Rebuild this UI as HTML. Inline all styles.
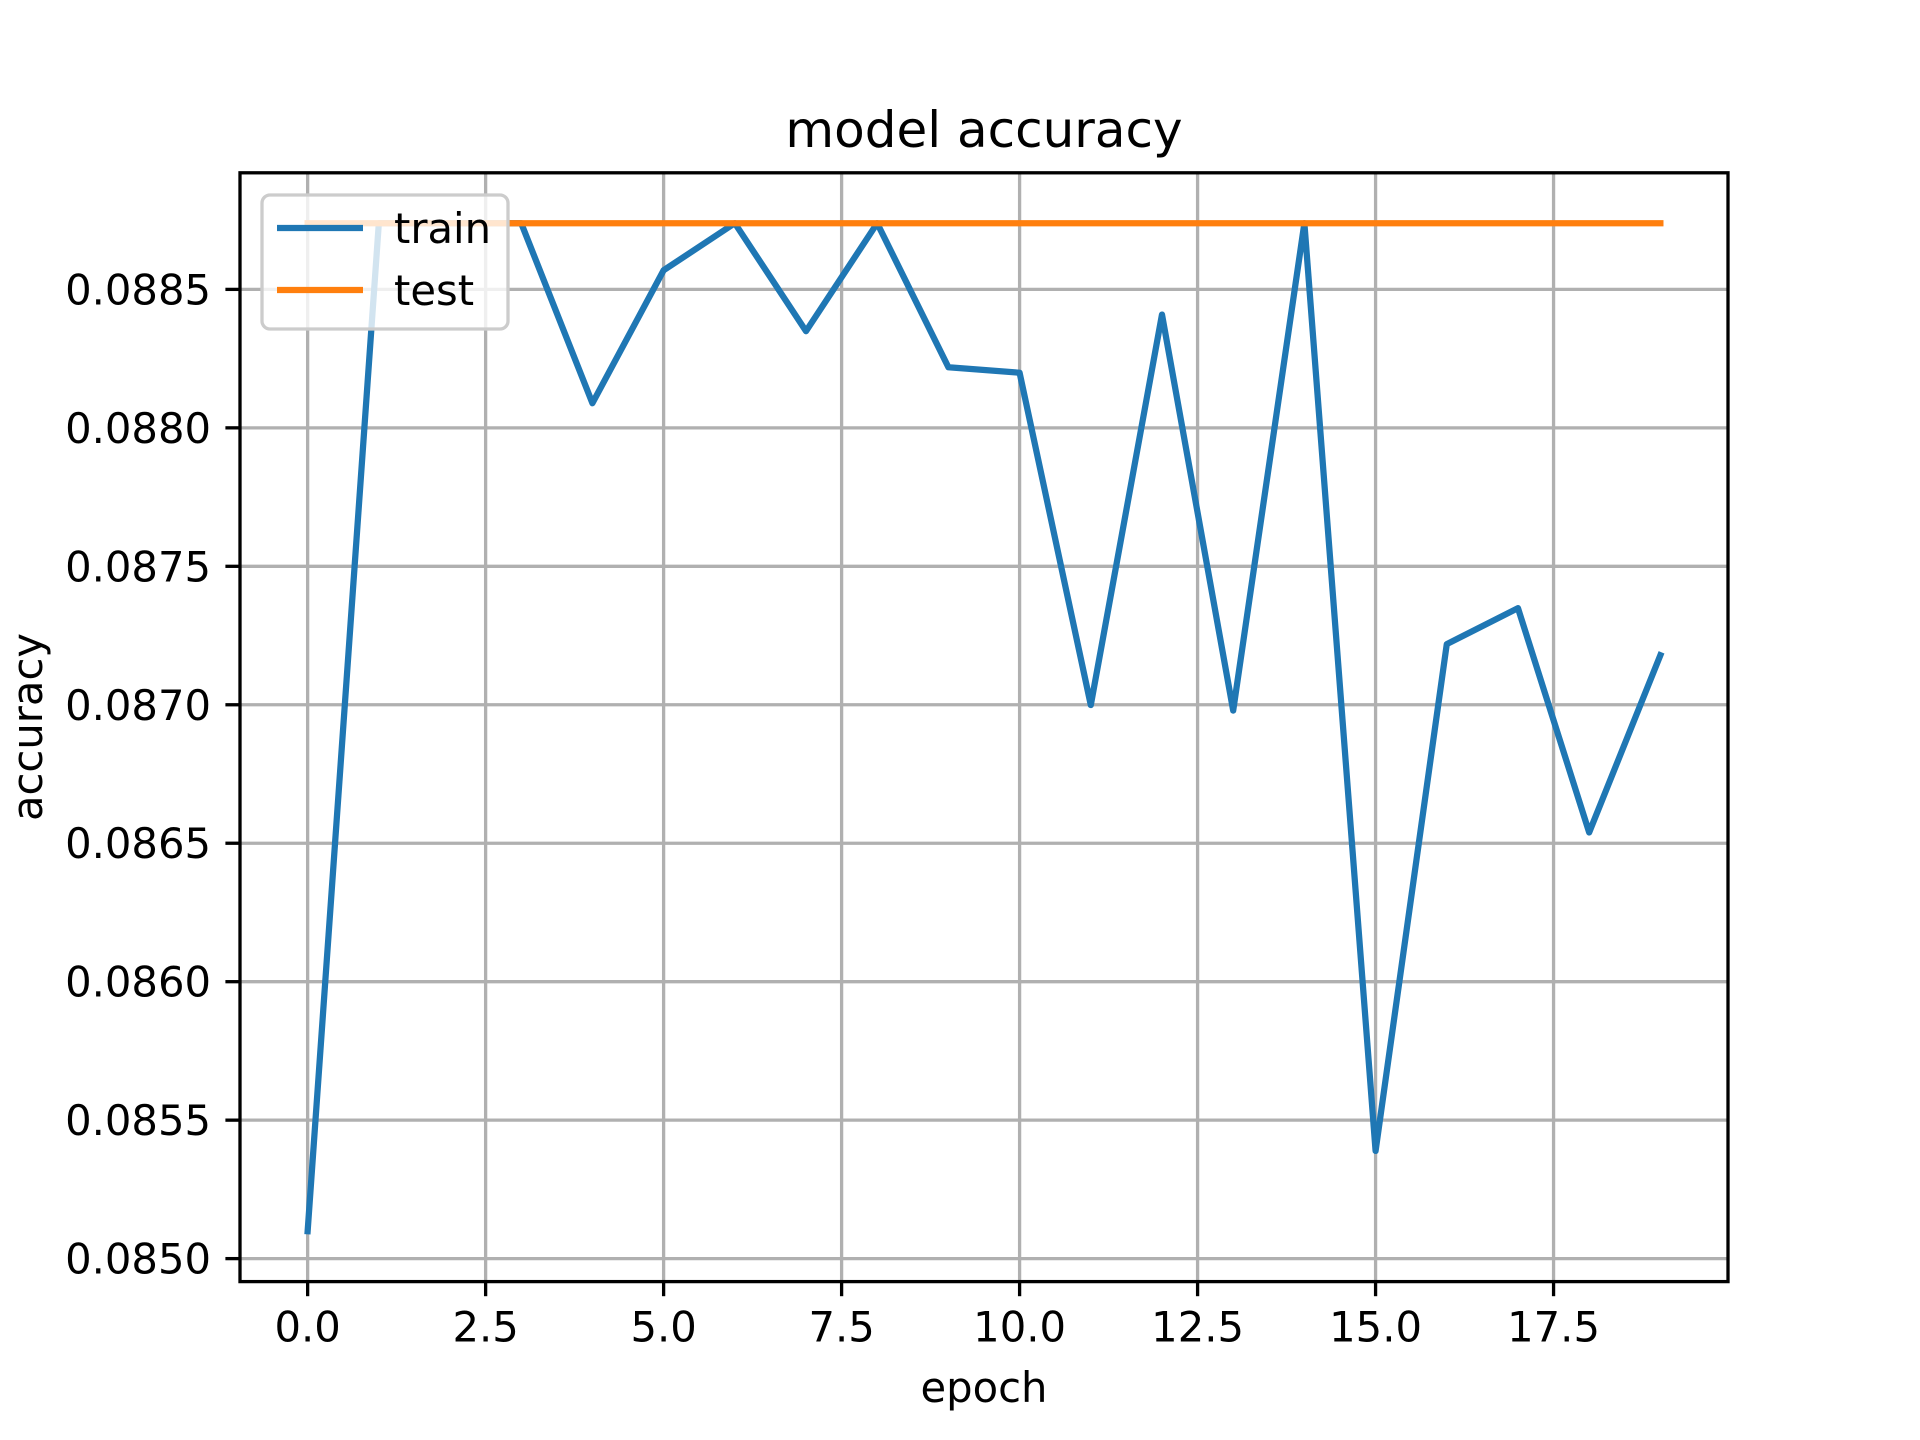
<!DOCTYPE html>
<html><head><meta charset="utf-8"><style>
html,body{margin:0;padding:0;background:#fff;width:1920px;height:1440px;overflow:hidden}
text{font-family:"DejaVu Sans","Liberation Sans",sans-serif;fill:#000}
</style></head><body>
<svg id="chart" width="1920" height="1440" xmlns="http://www.w3.org/2000/svg">
<rect width="1920" height="1440" fill="#fff"/>
<g id="grid"></g>
<g id="series"></g>
<rect x="240" y="172.8" width="1488" height="1108.8" fill="none" stroke="#000" stroke-width="3.3"/>
<g id="ticks"></g>
<text x="984" y="147" font-size="50" text-anchor="middle">model accuracy</text>
<text x="984" y="1402" font-size="41.7" text-anchor="middle">epoch</text>
<text x="0" y="0" font-size="41.7" text-anchor="middle" transform="translate(42,727) rotate(-90)">accuracy</text>
<g>
<rect x="262" y="195" width="246" height="134" rx="8" fill="#fff" fill-opacity="0.8" stroke="#cccccc" stroke-width="3.3"/>
<line x1="277" y1="228" x2="363" y2="228" stroke="#1f77b4" stroke-width="6.25"/>
<text x="394" y="243" font-size="41.7">train</text>
<line x1="277" y1="290" x2="363" y2="290" stroke="#ff7f0e" stroke-width="6.25"/>
<text x="394" y="305" font-size="41.7">test</text>
</g>
</svg>
<script>
const epochs = [0,1,2,3,4,5,6,7,8,9,10,11,12,13,14,15,16,17,18,19];
const trainAcc = [0.085099,0.088739,0.088739,0.088739,0.088089,0.088569,0.088739,0.088349,0.088739,0.088219,0.088199,0.086999,0.088409,0.086979,0.088739,0.085389,0.087219,0.087349,0.086539,0.087179];
const testAcc = [0.088739,0.088739,0.088739,0.088739,0.088739,0.088739,0.088739,0.088739,0.088739,0.088739,0.088739,0.088739,0.088739,0.088739,0.088739,0.088739,0.088739,0.088739,0.088739,0.088739];
const xTicks = [0,2.5,5,7.5,10,12.5,15,17.5];
const xTickLabels = ["0.0","2.5","5.0","7.5","10.0","12.5","15.0","17.5"];
const yTicks = [0.0850,0.0855,0.0860,0.0865,0.0870,0.0875,0.0880,0.0885];
const yTickLabels = ["0.0850","0.0855","0.0860","0.0865","0.0870","0.0875","0.0880","0.0885"];

const L=240,R=1728,T=172.8,B=1281.6;
const all=trainAcc.concat(testAcc);
const dmin=Math.min(...all),dmax=Math.max(...all),pad=(dmax-dmin)*0.05;
const y0=dmin-pad,y1=dmax+pad;
const x0=epochs[0]-(epochs[epochs.length-1]-epochs[0])*0.05,x1=epochs[epochs.length-1]+(epochs[epochs.length-1]-epochs[0])*0.05;
const sx=v=>L+(v-x0)/(x1-x0)*(R-L);
const sy=v=>B-(v-y0)/(y1-y0)*(B-T);
const NS="http://www.w3.org/2000/svg";
function mk(tag,attrs,parent){const e=document.createElementNS(NS,tag);for(const k in attrs)e.setAttribute(k,attrs[k]);parent.appendChild(e);return e;}
const grid=document.getElementById('grid'),ticks=document.getElementById('ticks'),series=document.getElementById('series');
xTicks.forEach((t,i)=>{const x=sx(t);
 const g=mk('line',{x1:x,x2:x,y1:T,y2:B,stroke:'#b0b0b0','stroke-width':3.3},grid);
 
 
 const tk=mk('line',{x1:x,x2:x,y1:B,y2:B+14.6,stroke:'#000','stroke-width':3.3},ticks);
 
 
 const tx=mk('text',{x:x,y:B+60,'font-size':41.7,'text-anchor':'middle'},ticks);
 tx.textContent=xTickLabels[i];
 
 
});
yTicks.forEach((t,i)=>{const y=sy(t);
 const g=mk('line',{x1:L,x2:R,y1:y,y2:y,stroke:'#b0b0b0','stroke-width':3.3},grid);
 
 
 const tk=mk('line',{x1:L-14.6,x2:L,y1:y,y2:y,stroke:'#000','stroke-width':3.3},ticks);
 
 
 const tx=mk('text',{x:L-29,y:y+15,'font-size':41.7,'text-anchor':'end'},ticks);
 tx.textContent=yTickLabels[i];
 
 
});
function pts(arr){return arr.map((v,i)=>sx(epochs[i])+','+sy(v)).join(' ');}
const tl=mk('polyline',{points:pts(trainAcc),fill:'none',stroke:'#1f77b4','stroke-width':6.25,'stroke-linejoin':'round','stroke-linecap':'square'},series);


const te=mk('polyline',{points:pts(testAcc),fill:'none',stroke:'#ff7f0e','stroke-width':6.25,'stroke-linejoin':'round','stroke-linecap':'square'},series);


</script>
</body></html>
